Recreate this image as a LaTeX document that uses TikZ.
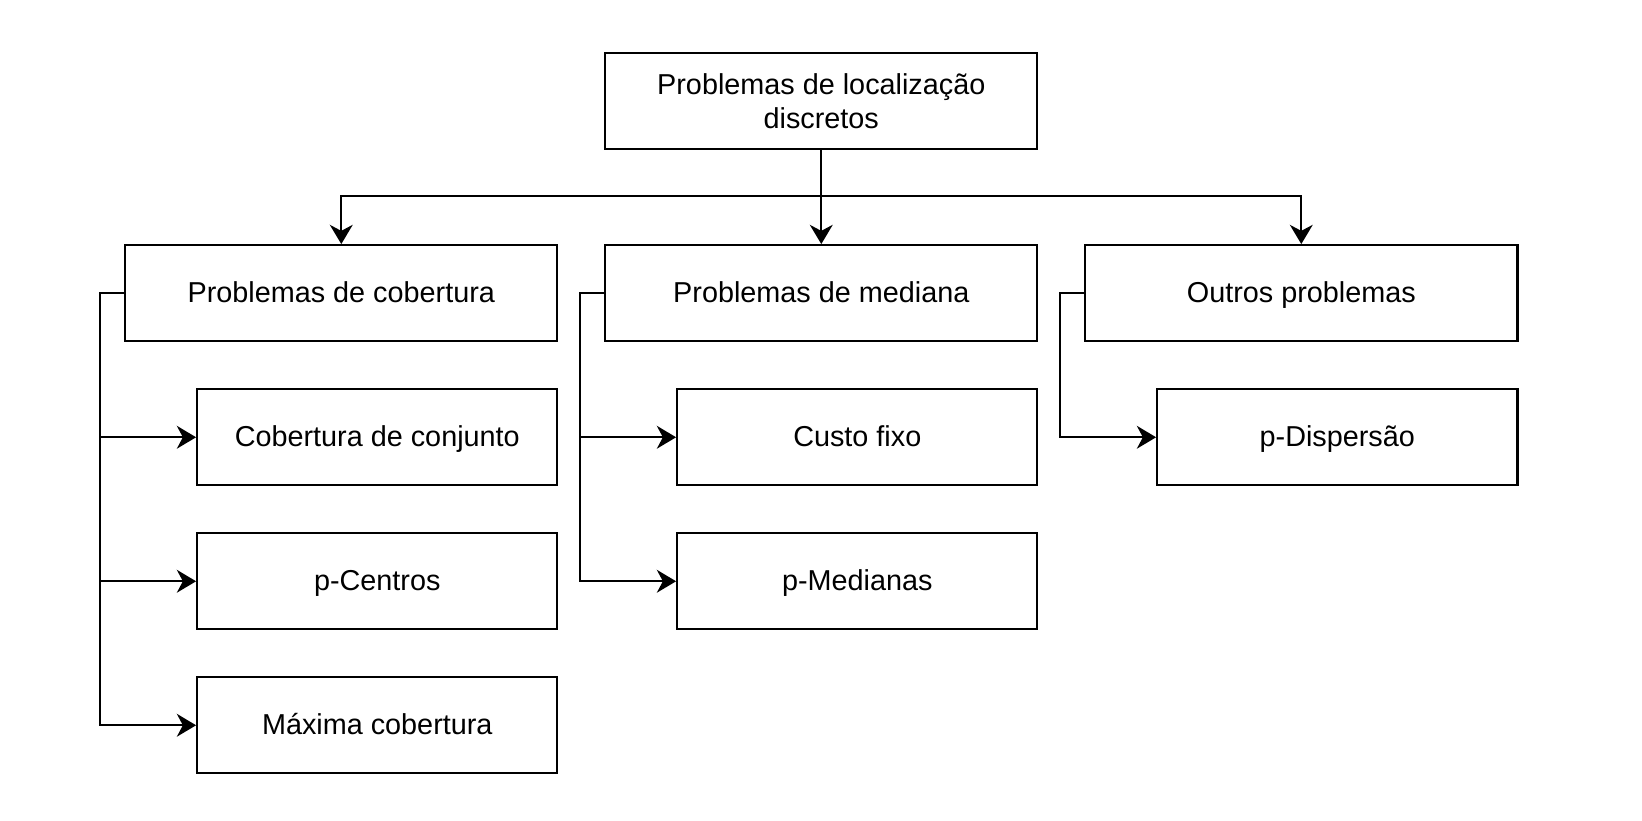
\documentclass[tikz,border=0pt]{standalone}
\usepackage{fontspec}
\setmainfont{Liberation Sans}
\usetikzlibrary{arrows.meta}

\tikzset{
  box/.style={draw, line width=1pt, minimum height=40pt, inner sep=0pt,
    align=center, anchor=north west, font=\fontsize{12pt}{14pt}\selectfont},
  parentbox/.style={box, minimum width=180pt, text height=9pt, text depth=1.5pt},
  childbox/.style={box, minimum width=150pt, text height=9pt, text depth=1.5pt},
  arr/.style={line width=1pt, -{Stealth[length=8pt, width=9.5pt, inset=2.5pt]}},
  rail/.style={line width=1pt}
}

\begin{document}
\begin{tikzpicture}[x=1pt, y=-1pt]
\useasboundingbox (0,0) rectangle (684.17,341.67);
% top box
\node[box, minimum width=180pt] (disc) at (251.7,21.7) {Problemas de localização\\discretos};
% first level
\node[parentbox] (cob) at (51.7,101.7) {Problemas de cobertura};
\node[parentbox] (med) at (251.7,101.7) {Problemas de mediana};
\node[parentbox] (out) at (451.7,101.7) {Outros problemas};
% cobertura
\node[childbox] (conj) at (81.7,161.7) {Cobertura de conjunto};
\node[childbox] (cent) at (81.7,221.7) {p-Centros};
\node[childbox] (maxc) at (81.7,281.7) {Máxima cobertura};
% mediana
\node[childbox] (fixo) at (281.7,161.7) {Custo fixo};
\node[childbox] (pmed) at (281.7,221.7) {p-Medianas};
% outros
\node[childbox] (disp) at (481.7,161.7) {p-Dispersão};
% bus
\coordinate (bus) at (0,81.7);
\draw[arr] (disc.south) -- (med.north);
\draw[arr] (disc.south) -- (disc.south |- bus) -| (cob.north);
\draw[arr] (disc.south) -- (disc.south |- bus) -| (out.north);
% rails
\foreach \p/\c in {cob/conj, cob/cent, cob/maxc, med/fixo, med/pmed, out/disp}
  \draw[arr] (\p.west) -- ++(-10,0) |- (\c.west);
\end{tikzpicture}
\end{document}
